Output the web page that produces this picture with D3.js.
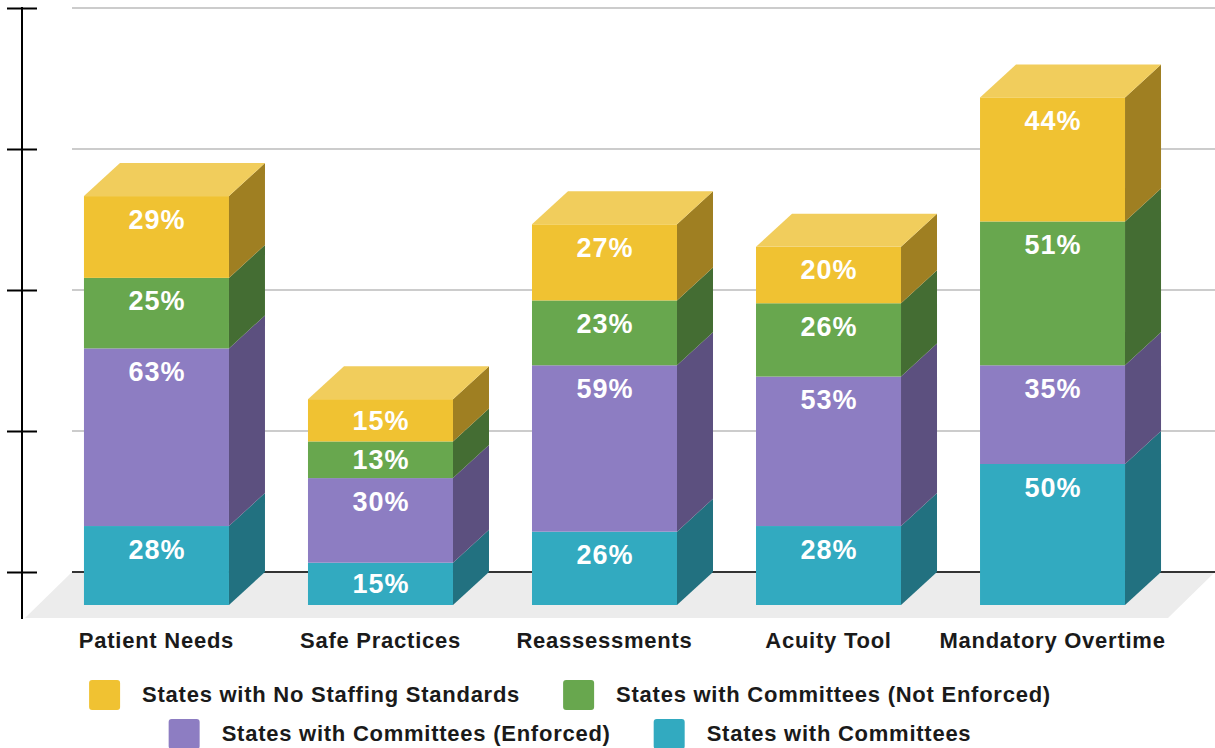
<!DOCTYPE html>
<html>
<head>
<meta charset="utf-8">
<script src="https://cdn.jsdelivr.net/npm/d3@7"></script>
<style>
  html, body { margin: 0; padding: 0; background: #fff; }
  svg { display: block; font-family: "Liberation Sans", Arial, sans-serif; }
</style>
</head>
<body>
<svg id="chart" width="1215" height="748"></svg>
<script>
// Staffing-standard categories and stacked series (percent of states)
const categories = ["Patient Needs", "Safe Practices", "Reassessments", "Acuity Tool", "Mandatory Overtime"];
const committees = [28, 15, 26, 28, 50];
const committeesEnforced = [63, 30, 59, 53, 35];
const committeesNotEnforced = [25, 13, 23, 26, 51];
const noStaffingStandards = [29, 15, 27, 20, 44];
const seriesNames = [
  "States with Committees",
  "States with Committees (Enforced)",
  "States with Committees (Not Enforced)",
  "States with No Staffing Standards"
];
const yTicks = [0, 50, 100, 150, 200];

const seriesValues = [committees, committeesEnforced, committeesNotEnforced, noStaffingStandards];
const palette = [
  { front: "#32aac0", side: "#227180", top: "#5cbccd" },
  { front: "#8d7dc2", side: "#5c507f", top: "#a397d0" },
  { front: "#68a74e", side: "#446d33", top: "#86b970" },
  { front: "#f0c232", side: "#9f7f22", top: "#f1cd5c" }
];

const svg = d3.select("#chart");

// Depth offset of the 3D extrusion
const dx = 36, dy = 33;

// Back-plane value scale; front faces sit dy lower
const y = d3.scaleLinear().domain([0, 200]).range([572, 8]);
const x = d3.scaleBand().domain(categories)
  .range([60, 1149]).paddingInner(0.3527).paddingOuter(0.107);

// Gridlines on the back wall
svg.append("g").selectAll("line").data(yTicks.filter(t => t > 0)).join("line")
  .attr("x1", 72).attr("x2", 1215)
  .attr("y1", d => y(d)).attr("y2", d => y(d))
  .attr("stroke", "#cccccc").attr("stroke-width", 2);

// Floor
const y0 = y(0);
const floorDepth = 46;
svg.append("path")
  .attr("d", `M72,${y0} L1215,${y0} L${1215 - floorDepth - 1},${y0 + floorDepth} L25,${y0 + floorDepth} Z`)
  .attr("fill", "#ececec");
svg.append("line")
  .attr("x1", 72).attr("x2", 1215).attr("y1", y0).attr("y2", y0)
  .attr("stroke", "#333").attr("stroke-width", 2);

// Y axis with centred tick marks, no labels
const axis = svg.append("g").attr("transform", "translate(22,0)")
  .call(d3.axisLeft(y).tickValues(yTicks).tickSizeInner(15).tickSizeOuter(0).tickFormat(""));
axis.select(".domain").remove();
axis.selectAll(".tick line").attr("x1", -15).attr("x2", 15)
  .attr("stroke", "#000").attr("stroke-width", 2);
axis.append("line").attr("x1", 0).attr("x2", 0).attr("y1", 7).attr("y2", 619)
  .attr("stroke", "#000").attr("stroke-width", 2);

// Stack the series
const rows = categories.map((c, i) => {
  const r = { category: c };
  seriesNames.forEach((s, k) => { r[s] = seriesValues[k][i]; });
  return r;
});
const stacked = d3.stack().keys(seriesNames)(rows);
const yFront = v => y(v) + dy;

const bars = svg.append("g");
stacked.forEach((layer, k) => {
  const col = palette[k];
  const isTop = k === stacked.length - 1;
  const g = bars.append("g");
  layer.forEach(d => {
    const cat = d.data.category;
    const x0 = x(cat), w = x.bandwidth();
    const yt = yFront(d[1]), yb = yFront(d[0]);
    // front face
    g.append("rect").attr("x", x0).attr("y", yt).attr("width", w).attr("height", yb - yt)
      .attr("fill", col.front);
    // right side face
    g.append("path")
      .attr("d", `M${x0 + w},${yt} L${x0 + w + dx},${yt - dy} L${x0 + w + dx},${yb - dy} L${x0 + w},${yb} Z`)
      .attr("fill", col.side);
    // top face for the uppermost segment
    if (isTop) {
      g.append("path")
        .attr("d", `M${x0},${yt} L${x0 + dx},${yt - dy} L${x0 + w + dx},${yt - dy} L${x0 + w},${yt} Z`)
        .attr("fill", col.top);
    }
    // value label
    const h = yb - yt;
    const cy = yt + Math.min(h / 2, 23);
    g.append("text")
      .attr("x", x0 + w / 2 + 0.5).attr("y", cy + 9.5)
      .attr("text-anchor", "middle")
      .attr("fill", "#fff").attr("font-weight", "bold").attr("font-size", 27)
      .attr("letter-spacing", 1)
      .text((d[1] - d[0]) + "%");
  });
});

// Category labels
svg.append("g").selectAll("text").data(categories).join("text")
  .attr("x", d => x(d) + x.bandwidth() / 2).attr("y", 648)
  .attr("text-anchor", "middle")
  .attr("font-weight", "bold").attr("font-size", 22).attr("fill", "#1a1a1a")
  .attr("letter-spacing", 0.75)
  .text(d => d);

// Legend: two centred rows of swatch + label
const legendRows = [[3, 2], [1, 0]];
const sw = 31, swGap = 22, itemGap = 43, legendCenter = 570;
const legend = svg.append("g");
legendRows.forEach((row, r) => {
  const top = r === 0 ? 680 : 719;
  const rowG = legend.append("g");
  let cx = 0;
  row.forEach(k => {
    rowG.append("rect").attr("x", cx).attr("y", top).attr("width", sw).attr("height", 30)
      .attr("rx", 3).attr("fill", palette[k].front);
    const t = rowG.append("text").attr("x", cx + sw + swGap).attr("y", top + 22)
      .attr("font-weight", "bold").attr("font-size", 22).attr("fill", "#1a1a1a")
      .attr("letter-spacing", 0.75)
      .text(seriesNames[k]);
    cx += sw + swGap + t.node().getComputedTextLength() + itemGap;
  });
  const total = cx - itemGap;
  rowG.attr("transform", `translate(${legendCenter - total / 2},0)`);
});
</script>
</body>
</html>
